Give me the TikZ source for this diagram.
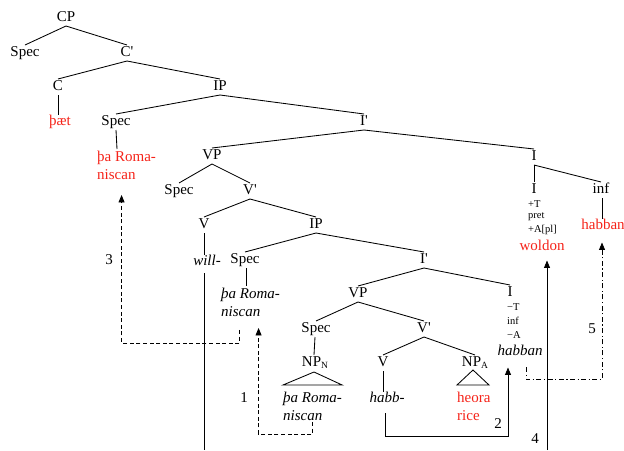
\documentclass[tikz,border=0pt]{standalone}
\usepackage{fontspec}
\setmainfont{Liberation Serif}
\usetikzlibrary{arrows.meta}
\definecolor{gloss}{RGB}{245,35,25}
\newcommand{\sbs}[1]{\raisebox{-1.5pt}{\fontsize{9.5}{10}\selectfont #1}}
\newcommand{\xbarprime}{\textquotesingle}
\begin{document}
\begin{tikzpicture}[x=1pt,y=-1pt,
  lab/.style={font=\fontsize{15}{18}\selectfont, inner sep=0pt, outer sep=0pt,
              text height=9.5pt, text depth=2.5pt, minimum height=16pt},
  word/.style={font=\fontsize{15}{18}\selectfont, inner sep=0pt, align=left},
  red/.style={text=gloss},
  feat/.style={font=\fontsize{10.5}{12}\selectfont, inner sep=0pt, anchor=west},
  num/.style={font=\fontsize{15}{18}\selectfont, inner sep=0pt},
  br/.style={line width=0.85pt},
  mv/.style={line width=0.85pt, -{Triangle[length=7.5pt,width=6pt]}},
  dsh/.style={dash pattern=on 4pt off 2.6pt},
  dshdot/.style={dash pattern=on 5pt off 2.5pt on 1.2pt off 2.5pt},
  tri/.style={line width=0.85pt}]
\useasboundingbox (0,0) rectangle (624,450);

% ---- upper tree ----
\node[lab] (cp)   at (66,18)  {CP};
\node[lab] (spc)  at (25,53)  {Spec};
\node[lab] (cb)   at (127,53) {C\xbarprime};
\node[lab] (c)    at (58,87)  {C};
\node[lab] (ip1)  at (220,87) {IP};
\node[word,red] (paet) at (60,122) {þæt};
\node[lab] (spi)  at (116,122) {Spec};
\node[word,red,anchor=north west] (rom1) at (97,151) {þa Roma-\\niscan};
\node[lab] (ib1)  at (364,122) {I\xbarprime};
\node[lab] (vp1)  at (212,156) {VP};
\node[lab] (i1)   at (534,157) {I};
\node[lab] (spv)  at (179,191) {Spec};
\node[lab] (vb1)  at (250,191) {V\xbarprime};
\node[lab] (i1a)  at (534,190) {I};
\node[lab] (inf)  at (601,190) {inf};
\node[feat] (ft1) at (528,204) {+T};
\node[feat] (ft2) at (528,217) {pret};
\node[feat] (ft3) at (528,230) {+A[pl]};
\node[word,red] (wold) at (542,245) {woldon};
\node[word,red] (hab1) at (603,224) {habban};

% ---- embedded clause ----
\node[lab] (v1)   at (204,225) {V};
\node[lab] (ip2)  at (316,225) {IP};
\node[word] (will) at (207,260) {\itshape will-};
\node[lab] (spi2) at (245,260) {Spec};
\node[word,anchor=north west] (rom2) at (221,288) {\itshape þa Roma-\\\itshape niscan};
\node[lab] (ib2)  at (424,260) {I\xbarprime};
\node[lab] (vp2)  at (358,294) {VP};
\node[lab] (i2)   at (510,293) {I};
\node[feat] (fu1) at (507,307) {−T};
\node[feat] (fu2) at (507,321) {inf};
\node[feat] (fu3) at (507,335) {−A};
\node[word] (hab2) at (520,350) {\itshape habban};
\node[lab] (spv2) at (316,329) {Spec};
\node[lab] (vb2)  at (424,329) {V\xbarprime};
\node[lab] (npn)  at (315,363) {NP\sbs{N}};
\node[lab] (v2)   at (383,363) {V};
\node[lab] (npa)  at (475,363) {NP\sbs{A}};
\node[word,anchor=north west] (rom3) at (283,392) {\itshape þa Roma-\\\itshape niscan};
\node[word] (habb) at (387,397) {\itshape habb-};
\node[word,red,anchor=north west] (heo) at (457,392) {heora\\rice};

% ---- branches ----
\draw[br] (cp.south) -- (spc.north);
\draw[br] (cp.south) -- (cb.north);
\draw[br] (cb.south) -- (c.north);
\draw[br] (cb.south) -- (ip1.north);
\draw[br] (c.south) -- (c.south |- paet.north);
\draw[br] (ip1.south) -- (spi.north);
\draw[br] (ip1.south) -- (ib1.north);
\draw[br] (spi.south) -- ([xshift=1pt,yshift=2pt]spi.south |- rom1.north);
\draw[br] (ib1.south) -- (vp1.north);
\draw[br] (ib1.south) -- (i1.north);
\draw[br] (vp1.south) -- (spv.north);
\draw[br] (vp1.south) -- (vb1.north);
\draw[br] (i1.south) -- (i1a.north);
\draw[br] (i1.south) -- (inf.north);
\draw[br] ([xshift=1pt]inf.south) -- ([xshift=1pt]inf.south |- hab1.north);
\draw[br] (vb1.south) -- (v1.north);
\draw[br] (vb1.south) -- (ip2.north);
\draw[br] (v1.south) -- (v1.south |- will.north);
\draw[br] (ip2.south) -- (spi2.north);
\draw[br] (ip2.south) -- (ib2.north);
\draw[br] ([xshift=1pt]spi2.south) -- ([xshift=1pt,yshift=2pt]spi2.south |- rom2.north);
\draw[br] (ib2.south) -- (vp2.north);
\draw[br] (ib2.south) -- (i2.north);
\draw[br] (vp2.south) -- (spv2.north);
\draw[br] (vp2.south) -- (vb2.north);
\draw[br] ([xshift=-1pt]spv2.south) -- ([xshift=-1pt]npn.north);
\draw[br] (vb2.south) -- (v2.north);
\draw[br] (vb2.south) -- (npa.north);
\draw[br] (v2.south) -- (v2.south |- habb.north);

% triangles over unanalysed phrases
\draw[tri] ([xshift=-1pt,yshift=-1pt]npn.south)
  -- ([yshift=7pt]rom3.north west) -- ([yshift=7pt]rom3.north east) -- cycle;
\draw[tri] ([xshift=-2pt,yshift=1pt]npa.south)
  -- ([yshift=7pt]heo.north west) -- ([xshift=32pt,yshift=7pt]heo.north west) -- cycle;

% ---- movements ----
% 1: lower subject to embedded Spec,IP
\draw[mv,dsh] ([yshift=-1pt]rom3.south) -- ++(0,12) -| ([xshift=8pt,yshift=-11pt]rom2.south);
\node[num] (n1) at (244,398) {1};
% 2: habb- to embedded I
\draw[mv] ([xshift=-2pt,yshift=-11pt]habb.south) -- ++(0,23) -| ([xshift=-12pt,yshift=-12pt]hab2.south);
\node[num] (n2) at (498,424) {2};
% 3: embedded subject to matrix Spec,IP
\draw[mv,dsh] ([xshift=-11pt,yshift=-13pt]rom2.south) -- ++(0,13) -| ([xshift=-5pt,yshift=-15pt]rom1.south);
\node[num] (n3) at (109,260) {3};
% 4: will- up to matrix I
\draw[br] (will.south) ++(-3,8) coordinate (wl) -- (wl |- 0,450);
\coordinate (b4) at (547,450);
\draw[mv] (b4) -- ([xshift=5pt,yshift=-10pt]wold.south);
\node[num] (n4) at (535,439) {4};
% 5: embedded infinitive ending to matrix inf
\draw[mv,dshdot] ([xshift=6pt,yshift=-12pt]hab2.south) -- ++(0,12) -| ([xshift=-1pt,yshift=-13pt]hab1.south);
\node[num] (n5) at (592,329) {5};
\end{tikzpicture}
\end{document}
